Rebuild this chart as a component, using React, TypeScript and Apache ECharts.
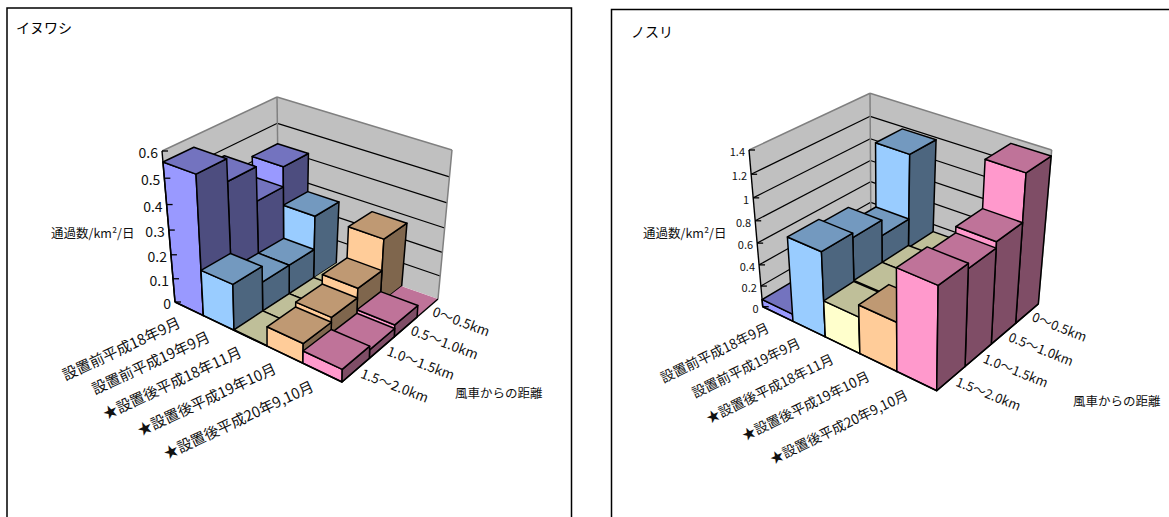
import React, { useEffect, useRef } from "react";
import * as echarts from "echarts";

const dates = ["設置前平成18年9月", "設置前平成19年9月", "★設置後平成18年11月", "★設置後平成19年10月", "★設置後平成20年9,10月"];
const distances = ["0～0.5km", "0.5～1.0km", "1.0～1.5km", "1.5～2.0km"];
const axisName = "通過数/km²/日";
const depthName = "風車からの距離";

// rows: dates; columns: distances (0-0.5, 0.5-1.0, 1.0-1.5, 1.5-2.0)
const inuwashiValues = [
  [0.42, 0.34, 0.475, 0.56],
  [0.265, 0.125, 0.125, 0.19],
  [0, 0.002, 0.002, 0.002],
  [0.27, 0.14, 0.1, 0.08],
  [0, 0.05, 0.035, 0.05],
];
const nosuriValues = [
  [0, 0, 0, 0.07],
  [1.18, 0.6, 0.74, 0.78],
  [0.33, 0.35, 0.35, 0.34],
  [0, 0, 0, 0.45],
  [1.35, 0.93, 0.875, 0.92],
];
const inuwashiTicks = [0, 0.1, 0.2, 0.3, 0.4, 0.5, 0.6];
const nosuriTicks = [0, 0.2, 0.4, 0.6, 0.8, 1, 1.2, 1.4];

const front = ["#9999FF", "#99CCFF", "#FFFFCC", "#FFCC99", "#FF99CC"];
const top = ["#7373BF", "#7399BF", "#BFBF99", "#BF9973", "#BF7399"];
const side = ["#4D4D7F", "#4D667F", "#7F7F66", "#7F664D", "#7F4D66"];

type Pt = [number, number];
function homography(L: Pt, F: Pt, R: Pt, B: Pt) {
  const dx1 = F[0] - R[0], dx2 = B[0] - R[0], sx = L[0] - F[0] + R[0] - B[0];
  const dy1 = F[1] - R[1], dy2 = B[1] - R[1], sy = L[1] - F[1] + R[1] - B[1];
  const den = dx1 * dy2 - dx2 * dy1;
  const g = (sx * dy2 - dx2 * sy) / den;
  const h = (dx1 * sy - sx * dy1) / den;
  const a = F[0] - L[0] + g * F[0], b = B[0] - L[0] + h * B[0];
  const d = F[1] - L[1] + g * F[1], e = B[1] - L[1] + h * B[1];
  return (u: number, v: number): Pt => {
    const w = g * u + h * v + 1;
    return [(a * u + b * v + L[0]) / w, (d * u + e * v + L[1]) / w];
  };
}
function makeProjector(floor: Pt[], ceil: Pt[], zMax: number, persp: number) {
  const H0 = homography(floor[0], floor[1], floor[2], floor[3]);
  const H1 = homography(ceil[0], ceil[1], ceil[2], ceil[3]);
  return (u: number, v: number, val: number): Pt => {
    const z = val / zMax;
    const t = (z * (1 + persp)) / (1 + persp * z);
    const p = H0(u, v), q = H1(u, v);
    return [p[0] + (q[0] - p[0]) * t, p[1] + (q[1] - p[1]) * t];
  };
}

type Panel = {
  title: string; titleX: number; titleY: number; frame: number[];
  values: number[][]; ticks: number[]; tickFont: number; dateFont: number; kmFont: number; axisFont: number;
  proj: (u: number, v: number, z: number) => Pt;
  dateRot: number; kmRot: number; dateOff: Pt; kmOff: Pt;
  axisPos: Pt; depthPos: Pt;
};

const panels: Panel[] = [
  {
    title: "イヌワシ", titleX: 16, titleY: 27, frame: [7, 8, 564.5, 540],
    values: inuwashiValues, ticks: inuwashiTicks, tickFont: 14, dateFont: 14.8, kmFont: 13.5, axisFont: 12.5,
    proj: makeProjector([[175, 302], [342, 382], [438, 299], [279, 243]], [[162, 151], [345, 217], [452, 150], [277, 97]], 0.6, -0.09),
    dateRot: 25, kmRot: -21, dateOff: [-10, 12], kmOff: [6, 2],
    axisPos: [51, 232], depthPos: [455, 392],
  },
  {
    title: "ノスリ", titleX: 631, titleY: 31, frame: [611.5, 9.5, 600, 540],
    values: nosuriValues, ticks: nosuriTicks, tickFont: 11, dateFont: 13.7, kmFont: 13, axisFont: 12.5,
    proj: makeProjector([[762.7, 306.7], [936.7, 390.7], [1038.3, 304], [871, 242]], [[749, 150], [939, 225], [1051.7, 150], [870, 93.3]], 1.4, -0.09),
    dateRot: 26, kmRot: -22, dateOff: [-10, 12], kmOff: [6, 2],
    axisPos: [643, 232], depthPos: [1073, 400],
  },
];

const FONT = '"Noto Sans CJK JP", sans-serif';
const poly = (points: Pt[], fill: string, stroke: string | null, lw = 1.5) => ({
  type: "polygon",
  shape: { points },
  style: { fill, stroke: stroke ?? "none", lineWidth: stroke ? lw : 0, lineJoin: "round" },
});
const line = (p: Pt, q: Pt, stroke: string, lw = 1.2) => ({
  type: "line",
  shape: { x1: p[0], y1: p[1], x2: q[0], y2: q[1] },
  style: { stroke, lineWidth: lw, fill: "none" },
});
const label = (text: string, x: number, y: number, size: number, align: string, rotDeg = 0) => ({
  type: "text",
  x, y,
  rotation: (rotDeg * Math.PI) / 180,
  style: { text, x: 0, y: 0, align, verticalAlign: "middle", font: `${size}px ${FONT}`, fill: "#111" },
});

function panelSeries(p: Panel): any[] {
  const { proj, ticks } = p;
  const zMax = ticks[ticks.length - 1];
  const nI = p.values.length, nJ = p.values[0].length;
  const barData: number[][] = [];
  for (let j = 0; j < nJ; j++) for (let i = 0; i < nI; i++) barData.push([i, j, p.values[i][j]]);

  const walls = {
    type: "custom", coordinateSystem: "none", silent: true, z: 1,
    data: [[0]],
    renderItem: () => {
      const L0 = proj(0, 0, 0), L1 = proj(0, 0, zMax), B0 = proj(0, 1, 0), B1 = proj(0, 1, zMax);
      const R0 = proj(1, 1, 0), R1 = proj(1, 1, zMax), F0 = proj(1, 0, 0);
      const children: any[] = [
        poly([L0, B0, B1, L1], "#C0C0C0", null),
        poly([B0, R0, R1, B1], "#C0C0C0", null),
        poly([L0, F0, R0, B0], "#FFFFFF", null),
      ];
      ticks.slice(1, -1).forEach((t) => {
        children.push(line(proj(0, 0, t), proj(0, 1, t), "#000"));
        children.push(line(proj(0, 1, t), proj(1, 1, t), "#000"));
      });
      children.push(line(L1, B1, "#808080", 1.5), line(B1, R1, "#808080", 1.5), line(B0, B1, "#808080", 1.5), line(R0, R1, "#808080", 1.5));
      return { type: "group", children };
    },
  };

  const bars = {
    type: "custom", coordinateSystem: "none", silent: true, z: 2,
    data: barData,
    renderItem: (_: any, api: any) => {
      const i = api.value(0), j = api.value(1), val = api.value(2);
      const u0 = i / nI, u1 = (i + 1) / nI, v0 = (nJ - 1 - j) / nJ, v1 = (nJ - j) / nJ;
      if (val === 0) {
        return poly([proj(u0, v0, 0), proj(u1, v0, 0), proj(u1, v1, 0), proj(u0, v1, 0)], top[i], null);
      }
      const A = proj(u0, v0, 0), Bb = proj(u1, v0, 0), C = proj(u1, v1, 0);
      const At = proj(u0, v0, val), Bt = proj(u1, v0, val), Ct = proj(u1, v1, val), Dt = proj(u0, v1, val);
      return {
        type: "group",
        children: [
          poly([A, Bb, Bt, At], front[i], "#000"),
          poly([Bb, C, Ct, Bt], side[i], "#000"),
          poly([At, Bt, Ct, Dt], top[i], "#000"),
        ],
      };
    },
  };

  const axes = {
    type: "custom", coordinateSystem: "none", silent: true, z: 3,
    data: [[0]],
    renderItem: () => {
      const L0 = proj(0, 0, 0), L1 = proj(0, 0, zMax), F0 = proj(1, 0, 0), R0 = proj(1, 1, 0);
      const children: any[] = [line(L0, L1, "#000", 1.4), line(L0, F0, "#000", 1.4), line(F0, R0, "#000", 1.4)];
      ticks.forEach((t) => {
        const q = proj(0, 0, t);
        children.push(line(q, [q[0] + 6, q[1]], "#000", 1.3));
        children.push(label(String(t), q[0] - 4, q[1] + 1, p.tickFont, "right"));
      });
      dates.forEach((d, i) => {
        const q = proj((i + 0.5) / nI, 0, 0);
        children.push(label(d, q[0] + p.dateOff[0], q[1] + p.dateOff[1], p.dateFont, "right", p.dateRot));
      });
      distances.forEach((d, j) => {
        const q = proj(1, (nJ - 1 - j + 0.5) / nJ, 0);
        children.push(label(d, q[0] + p.kmOff[0], q[1] + p.kmOff[1], p.kmFont, "left", p.kmRot));
      });
      children.push(label(axisName, p.axisPos[0], p.axisPos[1], p.axisFont, "left"));
      children.push(label(depthName, p.depthPos[0], p.depthPos[1], 12.5, "left"));
      return { type: "group", children };
    },
  };
  return [walls, bars, axes];
}

export default function App() {
  const ref = useRef<HTMLDivElement>(null);
  useEffect(() => {
    const chart = echarts.init(ref.current!, undefined, { renderer: "svg" });
    chart.setOption({
      animation: false,
      backgroundColor: "#fff",
      graphic: panels.flatMap((p) => [
        {
          type: "rect", z: 0, silent: true,
          shape: { x: p.frame[0], y: p.frame[1], width: p.frame[2], height: p.frame[3] },
          style: { fill: "#fff", stroke: "#000", lineWidth: 1.5 },
        },
        {
          type: "text", z: 5, silent: true, x: p.titleX, y: p.titleY,
          style: { text: p.title, font: `14px ${FONT}`, fill: "#000", verticalAlign: "middle" },
        },
      ]),
      series: panels.flatMap(panelSeries),
    });
    return () => chart.dispose();
  }, []);
  return <div ref={ref} style={{ position: "fixed", left: 0, top: 0, width: 1169, height: 517 }} />;
}
